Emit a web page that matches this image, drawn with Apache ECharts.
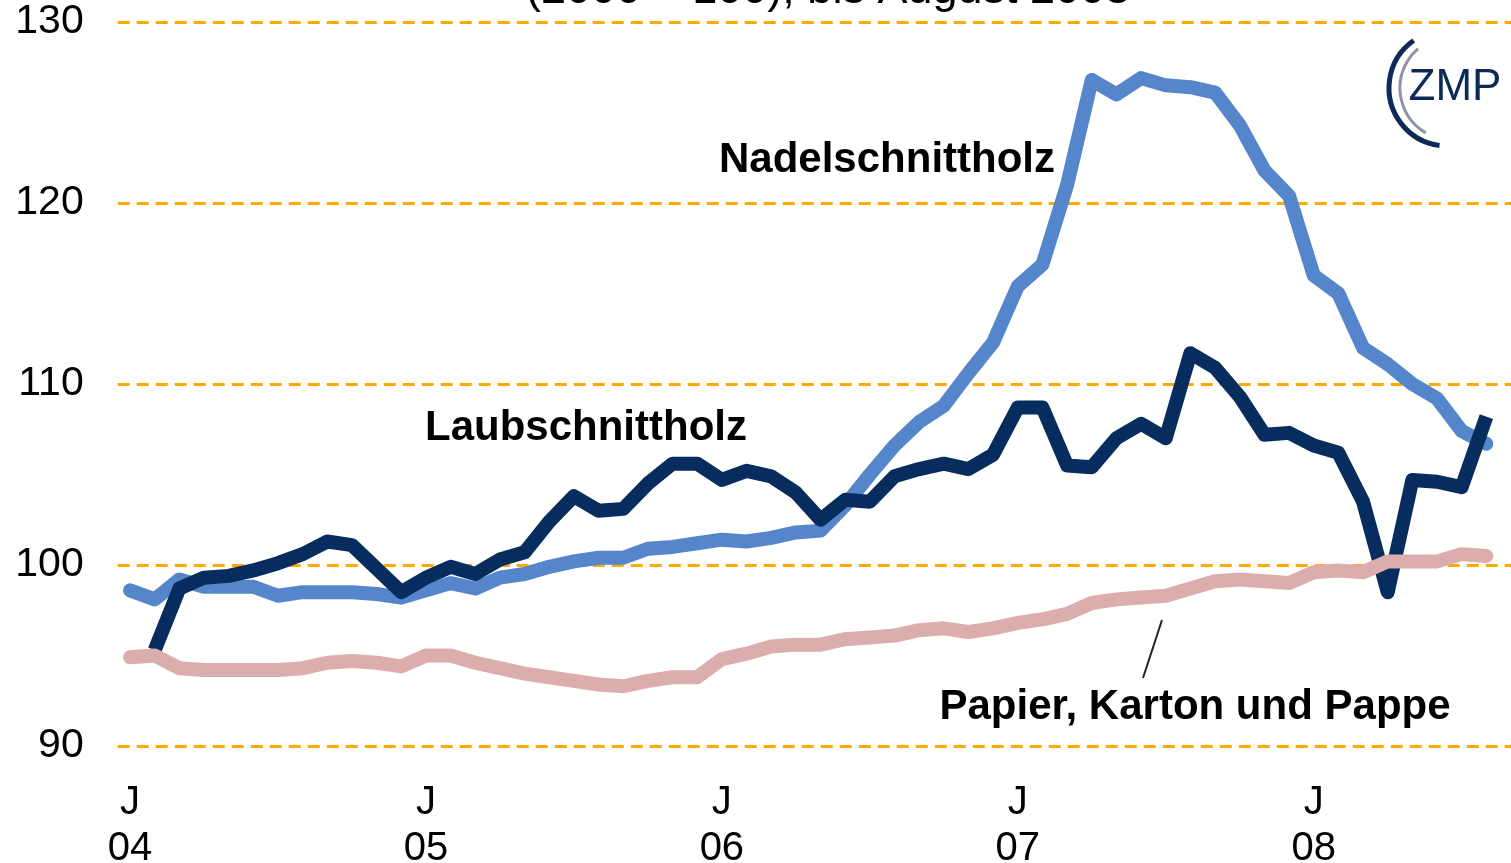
<!DOCTYPE html>
<html>
<head>
<meta charset="utf-8">
<script src="https://cdn.jsdelivr.net/npm/echarts@6/dist/echarts.min.js"></script>
<style>
  html, body { margin: 0; padding: 0; background: #fff; }
  #chart { width: 1511px; height: 863px; }
</style>
</head>
<body>
<div id="chart"></div>
<script>
// Monatswerte Jan 2004 .. Aug 2008 (Index 2000 = 100)
var months = [];
for (var m = 0; m < 56; m++) months.push(m);

var yearTicks = [0, 12, 24, 36, 48];
var yearLabels = ['04', '05', '06', '07', '08'];

var nadelschnittholz = [
  98.6, 98.1, 99.2, 98.8, 98.8, 98.8, 98.3, 98.5, 98.5, 98.5, 98.4, 98.2,
  98.6, 99.0, 98.7, 99.3, 99.5, 99.9, 100.2, 100.4, 100.4, 100.9, 101.0, 101.2,
  101.4, 101.3, 101.5, 101.8, 101.9, 103.3, 105.0, 106.6, 107.9, 108.8, 110.6, 112.3,
  115.4, 116.6, 121.0, 126.8, 126.0, 126.9, 126.5, 126.4, 126.1, 124.3, 121.8, 120.4,
  116.0, 115.0, 112.0, 111.1, 110.0, 109.2, 107.4, 106.7
];

var laubschnittholz = [
  null, 95.3, 98.7, 99.3, 99.4, 99.7, 100.1, 100.6, 101.3, 101.1, 99.8, 98.5,
  99.3, 99.9, 99.5, 100.3, 100.7, 102.4, 103.8, 103.0, 103.1, 104.5, 105.6, 105.6,
  104.7, 105.2, 104.9, 104.0, 102.5, 103.6, 103.5, 104.9, 105.3, 105.6, 105.3, 106.1,
  108.7, 108.7, 105.5, 105.4, 107.0, 107.8, 107.0, 111.7, 110.9, 109.3, 107.2, 107.3,
  106.6, 106.2, 103.5, 98.5, 104.7, 104.6, 104.3, 108.2
];

var papier = [
  94.9, 95.0, 94.3, 94.2, 94.2, 94.2, 94.2, 94.3, 94.6, 94.7, 94.6, 94.4,
  95.0, 95.0, 94.6, 94.3, 94.0, 93.8, 93.6, 93.4, 93.3, 93.6, 93.8, 93.8,
  94.8, 95.1, 95.5, 95.6, 95.6, 95.9, 96.0, 96.1, 96.4, 96.5, 96.3, 96.5,
  96.8, 97.0, 97.3, 97.9, 98.1, 98.2, 98.3, 98.7, 99.1, 99.2, 99.1, 99.0,
  99.6, 99.7, 99.6, 100.2, 100.2, 100.2, 100.6, 100.5
];

function pairs(values) {
  return months.map(function (m, i) { return [m, values[i]]; });
}

var myChart = echarts.init(document.getElementById('chart'));
var font = 'Liberation Sans, Arial, sans-serif';

var option = {
  backgroundColor: '#ffffff',
  animation: false,
  grid: { left: 117.7, right: 0, top: 22, bottom: 117, containLabel: false, outerBoundsMode: 'none' },
  xAxis: {
    type: 'value',
    min: -0.5,
    max: 56,
    axisLine: { show: false },
    axisTick: { show: false },
    splitLine: { show: false },
    axisLabel: {
      customValues: yearTicks,
      margin: 34,
      color: '#000',
      fontFamily: font,
      fontSize: 40,
      lineHeight: 46,
      formatter: function (v) {
        var k = yearTicks.indexOf(v);
        return k < 0 ? '' : 'J\n' + yearLabels[k];
      }
    }
  },
  yAxis: {
    type: 'value',
    min: 90,
    max: 130,
    interval: 10,
    axisLine: { show: false },
    axisTick: { show: false },
    axisLabel: { margin: 34, color: '#000', fontFamily: font, fontSize: 41 },
    splitLine: { lineStyle: { color: '#FFAA00', width: 3, type: [12, 7] } }
  },
  series: [
    {
      name: 'Nadelschnittholz', type: 'line', data: pairs(nadelschnittholz),
      showSymbol: false, symbol: 'none',
      lineStyle: { color: '#5585CB', width: 14, join: 'round', cap: 'round' }
    },
    {
      name: 'Laubschnittholz', type: 'line', data: pairs(laubschnittholz),
      showSymbol: false, symbol: 'none',
      lineStyle: { color: '#062D5E', width: 14, join: 'round', cap: 'butt' }
    },
    {
      name: 'Papier, Karton und Pappe', type: 'line', data: pairs(papier),
      showSymbol: false, symbol: 'none',
      lineStyle: { color: '#DCADAD', width: 14, join: 'round', cap: 'round' }
    }
  ],
  graphic: [
    {
      type: 'text',
      style: { text: '(2000 = 100), bis August 2008', x: 828, y: 13, align: 'center', verticalAlign: 'bottom',
        font: '45px ' + font, fill: '#000' }
    },
    {
      type: 'text',
      style: { text: 'Nadelschnittholz', x: 887, y: 160, align: 'center', verticalAlign: 'middle',
        font: 'bold 42px ' + font, fill: '#000' }
    },
    {
      type: 'text',
      style: { text: 'Laubschnittholz', x: 586, y: 428, align: 'center', verticalAlign: 'middle',
        font: 'bold 42px ' + font, fill: '#000' }
    },
    {
      type: 'text',
      style: { text: 'Papier, Karton und Pappe', x: 1195, y: 707, align: 'center', verticalAlign: 'middle',
        font: 'bold 42px ' + font, fill: '#000' }
    },
    {
      type: 'line',
      shape: { x1: 1162, y1: 620, x2: 1143, y2: 678 },
      style: { stroke: '#222', lineWidth: 2 }
    },
    // ZMP logo
    {
      type: 'arc',
      shape: { cx: 1447, cy: 88, r: 58, startAngle: 1.7, endAngle: 4.1 },
      style: { stroke: '#0B2A55', lineWidth: 5, fill: null }
    },
    {
      type: 'arc',
      shape: { cx: 1452, cy: 88, r: 52, startAngle: 2.1, endAngle: 4.0 },
      style: { stroke: '#8C95A8', lineWidth: 3, fill: null }
    },
    {
      type: 'text',
      style: { text: 'ZMP', x: 1455, y: 88, align: 'center', verticalAlign: 'middle',
        font: '44px ' + font, fill: '#0B2A55' }
    }
  ]
};

myChart.setOption(option);
</script>
</body>
</html>
